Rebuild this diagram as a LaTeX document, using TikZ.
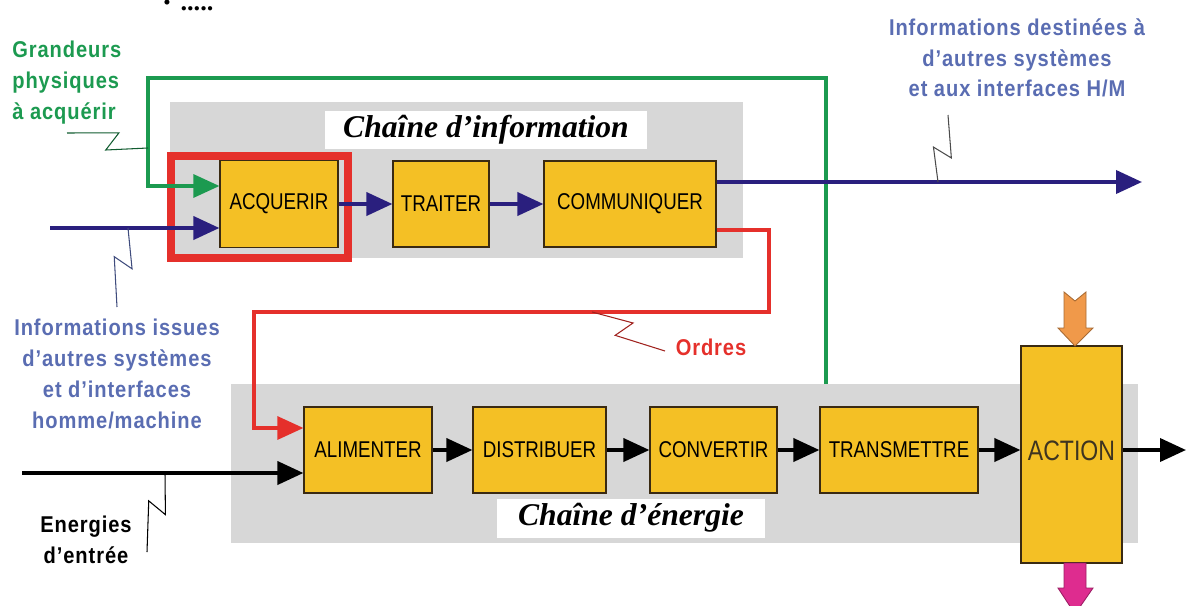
\documentclass[tikz,border=0pt]{standalone}
\usepackage{fontspec}
\setmainfont{Liberation Serif}
\newfontfamily\lblfont[FakeStretch=0.88,LetterSpace=4]{Liberation Sans}
\newfontfamily\boxfont[FakeStretch=0.82]{Liberation Sans}
\usetikzlibrary{arrows.meta,calc}
\definecolor{jaune}{HTML}{F4C025}
\definecolor{bord}{HTML}{3A2A12}
\definecolor{gris}{HTML}{D7D7D7}
\definecolor{vert}{HTML}{1C9A50}
\definecolor{marine}{HTML}{2A1F7E}
\definecolor{rouge}{HTML}{E5302B}
\definecolor{bleu}{HTML}{5A6DB2}
\definecolor{orange}{HTML}{F0994A}
\definecolor{magenta}{HTML}{DE2C8F}
\definecolor{actxt}{HTML}{3E3420}
\begin{document}
\begin{tikzpicture}[x=0.02cm,y=-0.02cm,
	bloc/.style={draw=bord,line width=0.7pt,fill=jaune,inner sep=0pt,minimum height=1.72cm,
		font=\boxfont\fontsize{13}{15}\selectfont},
	titre/.style={fill=white,inner sep=0pt,minimum height=0.78cm,
		font=\bfseries\itshape\fontsize{18}{20}\selectfont},
	lbl/.style={align=center,inner sep=0pt,font=\lblfont\bfseries\fontsize{13}{17.5}\selectfont},
	fl/.style={line width=2.2pt,-{Triangle[length=0.52cm,width=0.46cm]}},
	eclair/.style={line width=0.6pt,to path={-- ($(\tikztostart)!0.62!(\tikztotarget)!5.5pt!90:(\tikztotarget)$)
		-- ($(\tikztostart)!0.5!(\tikztotarget)!5.5pt!-90:(\tikztotarget)$) -- (\tikztotarget)}}
	]
	\useasboundingbox (0,0) rectangle (1189,605);
	\node[inner sep=0pt,font=\fontsize{12}{12}\selectfont] (puce) at (167,5) {\textbullet};
	\node[inner sep=0pt,font=\bfseries\fontsize{15}{15}\selectfont] (points) at (197,9) {.....};
	%%%%%%%%%%%%%%% chaines
	\fill[gris] (170,102) rectangle (743,258);
	\fill[gris] (231,384) rectangle (1138,543);
	\node[titre,minimum width=6.44cm] (tinfo) at (486,130) {Chaîne d’information};
	\node[titre,minimum width=5.36cm] (tener) at (631,518) {Chaîne d’énergie};
	\draw[rouge,line width=4pt] (171,156) rectangle (348,258);
	\node[bloc,minimum width=2.36cm,minimum height=1.74cm] (acq) at (279,204) {ACQUERIR};
	\node[bloc,minimum width=1.92cm] (trait) at (441,204) {TRAITER};
	\node[bloc,minimum width=3.44cm] (comm) at (630,204) {COMMUNIQUER};
	\node[bloc,minimum width=2.56cm] (alim) at (368,450) {ALIMENTER};
	\node[bloc,minimum width=2.66cm] (distr) at (539.5,450) {DISTRIBUER};
	\node[bloc,minimum width=2.54cm] (conv) at (713.5,450) {CONVERTIR};
	\node[bloc,minimum width=3.16cm] (trans) at (899,450) {TRANSMETTRE};
	\node[bloc,minimum width=2.02cm,minimum height=4.34cm,text=actxt,
		font=\boxfont\fontsize{16}{18}\selectfont] (action) at (1071.5,454.5) {\raisebox{4pt}{ACTION}};
	%%%%%%%%%%%%%%% textes
	\node[lbl,text=vert,align=left,anchor=north west] (grand) at (12,41) {Grandeurs\\physiques\\à acquérir};
	\node[lbl,text=bleu] (issues) at (117,374) {Informations issues\\d’autres systèmes\\et d’interfaces\\homme/machine};
	\node[lbl] (energ) at (86,540) {Energies\\d’entrée};
	\node[lbl,text=bleu] (dest) at (1017,58) {Informations destinées à\\d’autres systèmes\\et aux interfaces H/M};
	\node[lbl,text=rouge] (ordres) at (711,347) {Ordres};
	%%%%%%%%%%%%%%% liaisons
	\coordinate (gpied) at (826,384);
	\coordinate (ghaut) at (148,78);
	\coordinate (iin) at (50,228);
	\coordinate (iout) at (1142,182);
	\coordinate (r1) at (769,312);
	\coordinate (r2) at (254,312);
	\coordinate (ein) at (22,473);
	\coordinate (eout) at (1186,450);
	\draw[fl,vert,line width=1.8pt] (gpied) |- (ghaut) |- ($(acq.west)+(0,-18)$);
	\draw[fl,marine] (iin) -- ($(acq.west)+(0,24)$);
	\draw[fl,marine] (acq) -- (trait);
	\draw[fl,marine] (trait) -- (comm);
	\draw[fl,marine] ($(comm.east)+(0,-22)$) -- (iout);
	\draw[fl,rouge,line width=1.8pt] ($(comm.east)+(0,26)$) -| (r1) -- (r2) |- ($(alim.west)+(0,-22)$);
	\draw[fl] (ein) -- ($(alim.west)+(0,23)$);
	\draw[fl] (alim) -- (distr);
	\draw[fl] (distr) -- (conv);
	\draw[fl] (conv) -- (trans);
	\draw[fl] (trans.east) -- (trans.east -| action.west);
	\draw[fl] (action.east |- trans) -- (eout);
	%%%%%%%%%%%%%%% eclairs
	\coordinate (b1a) at (67,133); \coordinate (b1b) at (148,148);
	\coordinate (b2a) at (117,307); \coordinate (b2b) at (128,228);
	\coordinate (b3a) at (147,552); \coordinate (b3b) at (165,473);
	\coordinate (b4a) at (948,115); \coordinate (b4b) at (938,182);
	\coordinate (b5a) at (665,351); \coordinate (b5b) at (592,312);
	\draw[eclair,draw=vert!60!black] (b1a) to (b1b);
	\draw[eclair,draw=bleu!70!black] (b2a) to (b2b);
	\draw[eclair,draw=black] (b3a) to (b3b);
	\draw[eclair,draw=black!70] (b4a) to (b4b);
	\draw[eclair,draw=rouge!70!black] (b5a) to (b5b);
	%%%%%%%%%%%%%%% fleches de l'action
	\filldraw[fill=orange,draw=orange!70!black,line width=0.5pt] (1064,292) -- (1075,301) -- (1086,292) -- (1086,328)
		-- (1093,328) -- (1075,346) -- (1058,328) -- (1064,328) -- cycle;
	\begin{scope}
		\clip (0,0) rectangle (1189,605);
		\filldraw[fill=magenta,draw=magenta!70!black,line width=0.5pt] (1064,563) -- (1086,563) -- (1086,588)
			-- (1093,588) -- (1075,614) -- (1058,588) -- (1064,588) -- cycle;
	\end{scope}
\end{tikzpicture}
\end{document}
